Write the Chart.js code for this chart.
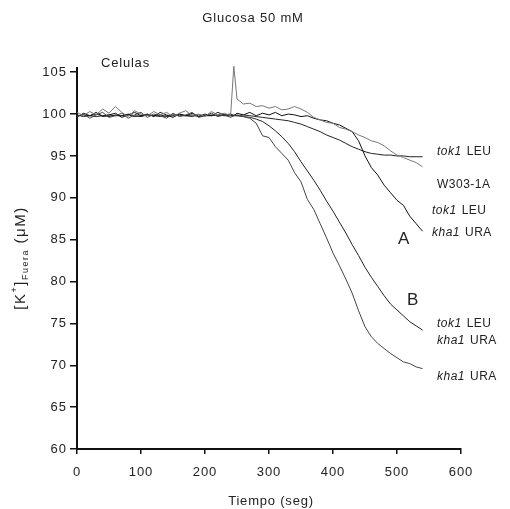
<!DOCTYPE html>
<html>
<head>
<meta charset="utf-8">
<script src="https://cdn.jsdelivr.net/npm/chart.js@4.4.0/dist/chart.umd.min.js"></script>
<style>
  html, body { margin: 0; padding: 0; background: #fff; }
  #wrap { width: 510px; height: 509px; }
</style>
</head>
<body>
<div id="wrap"><canvas id="potasio"></canvas></div>
<script>
// tiempo en segundos (extra point at 245 for the glucose spike)
const tiempo = [0, 10, 20, 30, 40, 50, 60, 70, 80, 90, 100, 110, 120, 130, 140, 150, 160, 170, 180, 190, 200, 210, 220, 230, 240, 245,
  250, 260, 270, 280, 290, 300, 310, 320, 330, 340, 350, 360, 370, 380, 390, 400, 410, 420, 430, 440, 450, 460, 470, 480, 490, 500, 510, 520, 530, 540];

const tok1Leu = [99.9, 99.7, 99.8, 100.0, 99.8, 99.7, 99.9, 99.8, 100.0, 99.8, 99.7, 99.9, 99.8, 99.9, 99.7, 99.8, 100.0, 99.8, 99.9, 99.7, 99.8, 99.9, 99.8, 99.9, 99.8, 99.9,
  99.8, 99.9, 99.8, 99.7, 99.6, 99.5, 99.4, 99.3, 99.2, 99.0, 98.8, 98.5, 98.2, 97.9, 97.5, 97.2, 96.9, 96.5, 96.1, 95.8, 95.5, 95.3, 95.2, 95.1, 95.1, 95.0, 95.0, 94.9, 94.9, 94.9];

const w303 = [100.2, 99.8, 100.3, 99.9, 100.6, 100.1, 100.9, 100.2, 99.7, 100.4, 100.0, 99.8, 100.3, 99.9, 100.2, 99.7, 100.1, 100.4, 99.8, 100.0, 99.7, 100.3, 99.9, 100.1, 99.8, 105.7,
  101.8, 101.2, 101.3, 100.9, 101.0, 100.7, 100.9, 100.5, 100.6, 100.9, 100.6, 100.2, 99.6, 99.3, 99.0, 98.9, 98.4, 98.2, 97.9, 97.5, 97.2, 96.8, 96.6, 96.2, 95.6, 95.1, 94.8, 94.5, 94.2, 93.7];

const dobleA = [99.6, 100.1, 99.8, 100.2, 99.7, 99.9, 100.1, 99.6, 99.9, 100.2, 99.8, 100.0, 99.7, 100.2, 99.9, 99.6, 100.0, 99.8, 100.1, 99.7, 100.0, 99.8, 100.2, 99.9, 100.0, 99.8,
  100.1, 99.9, 100.2, 99.8, 100.1, 99.9, 100.2, 99.8, 100.0, 99.9, 99.7, 99.8, 99.5, 99.3, 99.2, 98.9, 98.7, 98.3, 97.9, 96.8, 95.0, 93.6, 92.7, 91.5, 90.6, 89.7, 89.1, 87.8, 86.9, 86.0];

const dobleB = [99.8, 99.9, 99.8, 99.7, 99.8, 99.9, 99.8, 99.8, 99.9, 99.7, 99.8, 99.9, 99.8, 99.7, 99.8, 99.9, 99.8, 99.8, 99.7, 99.9, 99.8, 99.8, 99.9, 99.8, 99.8, 99.8,
  99.8, 99.7, 99.6, 99.4, 99.1, 98.6, 98.0, 97.3, 96.5, 95.5, 94.3, 93.2, 92.1, 90.9, 89.6, 88.4, 87.1, 85.8, 84.4, 83.1, 81.7, 80.5, 79.4, 78.3, 77.3, 76.6, 75.9, 75.2, 74.7, 74.2];

const kha1Ura = [99.7, 100.0, 99.5, 99.9, 100.2, 99.6, 99.8, 100.1, 99.5, 99.9, 100.2, 99.6, 100.0, 99.8, 99.5, 100.1, 99.7, 99.9, 100.2, 99.6, 99.8, 100.1, 99.7, 99.9, 99.6, 99.8,
  99.9, 99.7, 99.5, 98.9, 97.4, 97.2, 96.1, 95.3, 94.5, 93.0, 91.9, 89.8, 88.6, 86.9, 85.2, 83.4, 81.9, 80.3, 78.6, 76.5, 74.6, 73.4, 72.6, 72.0, 71.4, 70.9, 70.4, 70.2, 69.8, 69.6];

const xTicks = [0, 100, 200, 300, 400, 500, 600];
const yTicks = [60, 65, 70, 75, 80, 85, 90, 95, 100, 105];

function pts(vals) {
  return vals.map((v, i) => ({ x: tiempo[i], y: v }));
}

const FONT = '"Liberation Sans", Arial, sans-serif';
const INK = '#222';

function serie(label, vals, color) {
  return {
    label: label,
    data: pts(vals),
    borderColor: color,
    borderWidth: 1,
    pointRadius: 0,
    tension: 0,
    fill: false,
    clip: false
  };
}

// text drawn by hand: title, axis titles, curve labels
const textos = {
  id: 'textos',
  beforeDraw(chart) {
    chart.ctx.letterSpacing = '1px';
  },
  afterDraw(chart) {
    const c = chart.ctx;
    c.save();
    c.fillStyle = INK;
    c.textBaseline = 'middle';
    c.letterSpacing = '0.8px';

    c.font = '13px ' + FONT;
    c.textAlign = 'center';
    c.fillText('Glucosa 50 mM', 253, 18);
    c.fillText('Tiempo (seg)', 271, 501);

    c.textAlign = 'left';
    c.fillText('Celulas', 101, 63);

    // y axis title with super/subscript
    c.save();
    c.translate(21, 258);
    c.rotate(-Math.PI / 2);
    c.letterSpacing = '1.5px';
    const parts = [
      { t: '[K', f: '15px ', dy: 0 },
      { t: '+', f: '9px ', dy: -6 },
      { t: ']', f: '15px ', dy: 0 },
      { t: 'Fuera', f: '9px ', dy: 5 },
      { t: ' (\u03bcM)', f: '15px ', dy: 0 }
    ];
    let w = 0;
    parts.forEach(p => { c.font = p.f + FONT; w += c.measureText(p.t).width; });
    let x = -w / 2;
    c.textAlign = 'left';
    parts.forEach(p => {
      c.font = p.f + FONT;
      c.fillText(p.t, x, p.dy);
      x += c.measureText(p.t).width;
    });
    c.restore();

    c.letterSpacing = '0.5px';
    function etiqueta(gen, resto, x, y) {
      c.textAlign = 'left';
      if (gen) {
        c.font = 'italic 12px ' + FONT;
        c.fillText(gen, x, y);
        x += c.measureText(gen).width + 5;
      }
      c.font = '12px ' + FONT;
      c.fillText(resto, x, y);
    }
    etiqueta('tok1', 'LEU', 437, 152);
    etiqueta('', 'W303-1A', 437, 185);
    etiqueta('tok1', 'LEU', 432, 211);
    etiqueta('kha1', 'URA', 432, 233);
    etiqueta('tok1', 'LEU', 437, 324);
    etiqueta('kha1', 'URA', 437, 341);
    etiqueta('kha1', 'URA', 437, 377);

    c.font = '17px ' + FONT;
    c.fillText('A', 398, 239);
    c.fillText('B', 407, 300);
    c.restore();
  }
};

const ctx = document.getElementById('potasio').getContext('2d');
const potasioChart = new Chart(ctx, {
  type: 'line',
  data: {
    datasets: [
      serie('W303-1A', w303, '#777'),
      serie('kha1 URA', kha1Ura, '#444'),
      serie('tok1 LEU kha1 URA (A)', dobleA, '#111'),
      serie('tok1 LEU', tok1Leu, '#222'),
      serie('tok1 LEU kha1 URA (B)', dobleB, '#222')
    ]
  },
  options: {
    responsive: true,
    maintainAspectRatio: false,
    animation: false,
    layout: { padding: { top: 68, right: 49, bottom: 0, left: 0 } },
    plugins: {
      legend: { display: false },
      title: { display: false },
      tooltip: { enabled: false }
    },
    scales: {
      x: {
        type: 'linear',
        min: 0,
        max: 600,
        afterFit: s => { s.height = 60; },
        afterBuildTicks: s => { s.ticks = xTicks.map(v => ({ value: v })); },
        border: { color: '#111', width: 2 },
        grid: { drawOnChartArea: false, drawTicks: true, tickLength: 5, color: '#111', lineWidth: 1.5 },
        ticks: { color: INK, font: { family: FONT, size: 13 }, padding: 11, maxRotation: 0 }
      },
      y: {
        min: 60,
        max: 105.5,
        afterFit: s => { s.width = 77; },
        afterBuildTicks: s => { s.ticks = yTicks.map(v => ({ value: v })); },
        border: { color: '#111', width: 2 },
        grid: { drawOnChartArea: false, drawTicks: true, tickLength: 7, color: '#111', lineWidth: 1.5 },
        ticks: { color: INK, font: { family: FONT, size: 13 }, padding: 3 }
      }
    }
  },
  plugins: [textos]
});
</script>
</body>
</html>
